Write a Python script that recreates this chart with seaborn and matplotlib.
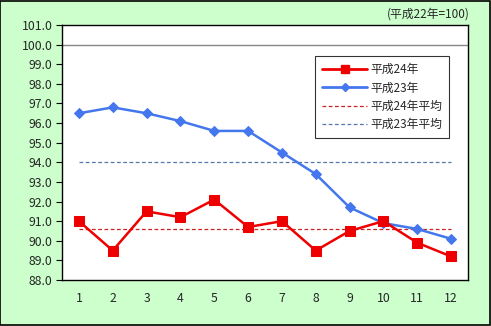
import matplotlib
matplotlib.use("Agg")
import matplotlib.pyplot as plt
import seaborn as sns
import pandas as pd
from matplotlib.lines import Line2D
from matplotlib.ticker import MultipleLocator, FormatStrFormatter

months = list(range(1, 13))
h24 = [91.0, 89.5, 91.5, 91.2, 92.1, 90.7, 91.0, 89.5, 90.5, 91.0, 89.9, 89.2]
h23 = [96.5, 96.8, 96.5, 96.1, 95.6, 95.6, 94.5, 93.4, 91.7, 90.9, 90.6, 90.1]
avg24 = 90.6
avg23 = 94.0
labels = ["平成24年", "平成23年", "平成24年平均", "平成23年平均"]
note = "(平成22年=100)"

sns.set_theme(style="white")
plt.rcParams['font.family'] = ['Noto Sans CJK JP', 'DejaVu Sans']

fig = plt.figure(figsize=(4.91, 3.26), dpi=100, facecolor="#CCFFCC")
ax = fig.add_axes([62/491, 1-280/326, (468-62)/491, (280-25)/326])
ax.set_facecolor("white")

df = pd.DataFrame({"month": months, "h24": h24, "h23": h23})
c_red = "#EE0000"
c_blue = "#4477EE"

ax.axhline(100.0, color="#888888", lw=1.0, zorder=1)
ax.hlines(avg24, months[0], months[-1], colors="#CC2222", linestyles=(0, (3, 2)), lw=0.9, zorder=2)
ax.hlines(avg23, months[0], months[-1], colors="#5577AA", linestyles=(0, (3, 2)), lw=0.9, zorder=2)

sns.lineplot(data=df, x="month", y="h23", ax=ax, color=c_blue, lw=1.8, marker="D",
             markersize=5, markeredgecolor=c_blue, zorder=3)
sns.lineplot(data=df, x="month", y="h24", ax=ax, color=c_red, lw=1.8, marker="s",
             markersize=7, markeredgecolor=c_red, zorder=4)

ax.set_xlim(0.5, 12.5)
ax.set_ylim(88.0, 101.0)
ax.set_xticks(months)
ax.yaxis.set_major_locator(MultipleLocator(1.0))
ax.yaxis.set_major_formatter(FormatStrFormatter("%.1f"))
ax.set_xlabel("")
ax.set_ylabel("")
ax.tick_params(axis="y", left=True, length=4, width=0.8, direction="out", labelsize=8.8, pad=3, color="black")
ax.tick_params(axis="x", bottom=False, length=0, labelsize=8.8, pad=9)
for s in ax.spines.values():
    s.set_color("black")
    s.set_linewidth(1.0)

handles = [
    Line2D([], [], color=c_red, lw=2, marker="s", markersize=6),
    Line2D([], [], color=c_blue, lw=2, marker="D", markersize=4),
    Line2D([], [], color="#CC2222", lw=0.9, ls=(0, (3, 2))),
    Line2D([], [], color="#5577AA", lw=0.9, ls=(0, (3, 2))),
]
leg = ax.legend(handles, labels, loc="upper left", bbox_to_anchor=((315-62)/406, (280-56)/255),
                borderaxespad=0, fontsize=8.5, frameon=True, fancybox=False, edgecolor="black",
                handlelength=3.8, labelspacing=0.45, borderpad=0.6, handletextpad=0.3)
leg.get_frame().set_linewidth(0.8)

fig.text(470/491, 1-14/326, note, ha="right", va="center", fontsize=8.5)
fig.patches.append(plt.Rectangle((0.001, 0.002), 0.997, 0.995, transform=fig.transFigure,
                                 fill=False, edgecolor="black", lw=1.2))

fig.savefig("out.png", dpi=100, facecolor=fig.get_facecolor())
